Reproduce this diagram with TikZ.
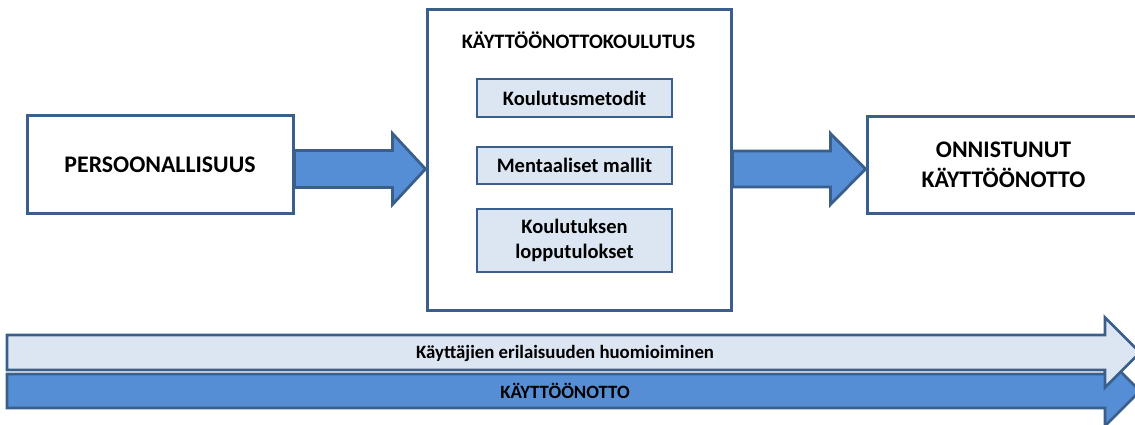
\documentclass[tikz,border=0pt]{standalone}
\usepackage{fontspec}
\setmainfont{Carlito}
\usetikzlibrary{calc}
\definecolor{edgeblue}{HTML}{3A5F8B}
\definecolor{fillblue}{HTML}{558ED5}
\definecolor{paleblue}{HTML}{DCE6F2}
\tikzset{
  box/.style={draw=edgeblue, line width=3pt, fill=white, align=center,
    font=\bfseries\fontsize{23.8}{30}\selectfont, inner sep=0pt},
  subbox/.style={draw=edgeblue, line width=2.8pt, fill=paleblue, align=center,
    font=\bfseries\fontsize{20.5}{25}\selectfont, minimum width=195pt, inner sep=0pt},
  blockarrow/.style={draw=edgeblue, line width=2.8pt, fill=fillblue, line join=miter},
  palearrow/.style={draw=edgeblue, line width=2.8pt, fill=paleblue, line join=miter},
  bandtext/.style={font=\bfseries\fontsize{18.8}{22}\selectfont, inner sep=0pt}
}
% block arrow: style, start, tip, half shaft, half head, head length
\newcommand\blkarrow[6]{%
  \draw[#1] let \p1=(#2), \p2=(#3) in
    (\x1,\y1+#4) -- (\x2-#6,\y1+#4) -- (\x2-#6,\y1+#5) -- (\x2,\y1)
    -- (\x2-#6,\y1-#5) -- (\x2-#6,\y1-#4) -- (\x1,\y1-#4) -- cycle;}
\begin{document}
\begin{tikzpicture}[x=1pt,y=-1pt]
\useasboundingbox (0,0) rectangle (1135,425);
\begin{scope}
\clip (0,0) rectangle (1135,425);

% main boxes
\node[box, minimum width=266pt, minimum height=97pt] (pers) at (160,164.5) {PERSOONALLISUUS};
\node[box, minimum width=304pt, minimum height=300pt] (train) at (579,160) {};
\node[box, minimum width=273pt, minimum height=96pt] (goal) at (1003.5,165) {ONNISTUNUT\\KÄYTTÖÖNOTTO};

% contents of the training box
\node[font=\bfseries\fontsize{20.5}{24}\selectfont, inner sep=0pt] (title) at (578.5,40) {KÄYTTÖÖNOTTOKOULUTUS};
\node[subbox, minimum height=38pt] (methods) at (574.5,98) {Koulutusmetodit};
\node[subbox, minimum height=37pt] (models) at (574.5,165.5) {Mentaaliset mallit};
\node[subbox, minimum height=63pt] (results) at (574.5,240.5) {Koulutuksen\\lopputulokset};

% arrows between the boxes
\coordinate (a1s) at (pers.east |- 0,169);
\coordinate (a1t) at (train.west |- 0,169);
\coordinate (a2s) at (train.east |- 0,169);
\coordinate (a2t) at (goal.west |- 0,169);
\blkarrow{blockarrow}{a1s}{a1t}{18.5pt}{35.5pt}{33pt}
\blkarrow{blockarrow}{a2s}{a2t}{18pt}{35.5pt}{35pt}

% timeline bands
\coordinate (b1s) at (7,391);
\coordinate (b1t) at (1140,391);
\coordinate (b2s) at (7,352.5);
\coordinate (b2t) at (1140,352.5);
\blkarrow{blockarrow}{b1s}{b1t}{17pt}{35pt}{35pt}
\blkarrow{palearrow}{b2s}{b2t}{17.5pt}{35pt}{35pt}
\node[bandtext] (diverse) at (565,353) {Käyttäjien erilaisuuden huomioiminen};
\node[bandtext] (deploy) at (565,391) {KÄYTTÖÖNOTTO};
\end{scope}
\end{tikzpicture}
\end{document}
